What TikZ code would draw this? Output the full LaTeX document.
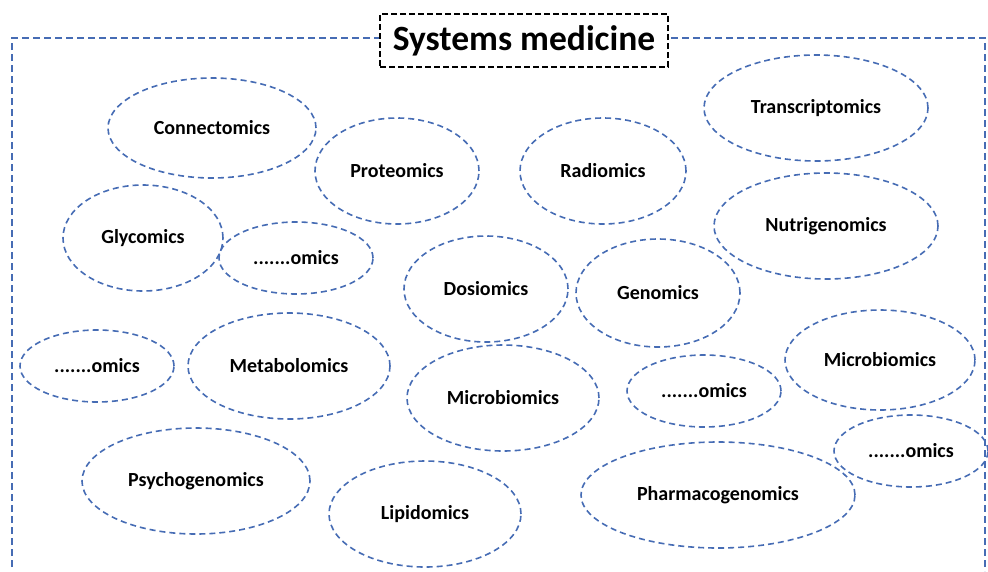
\documentclass[tikz,border=0pt]{standalone}
\usepackage{fontspec}
\setmainfont{Carlito}
\usetikzlibrary{shapes.geometric}
\definecolor{omicblue}{RGB}{70,108,180}

\begin{document}
\begin{tikzpicture}[x=1pt,y=-1pt,
  omic/.style={ellipse,draw=omicblue,dash pattern=on 6pt off 4pt,line width=1.6pt,inner sep=0pt,
    font=\bfseries\fontsize{20}{22}\selectfont},
  frameline/.style={draw=omicblue,dash pattern=on 7pt off 4pt,line width=1.4pt}]
  \useasboundingbox (0,0) rectangle (988,571);
  % frame
  \coordinate (fbl) at (12,567);
  \coordinate (ftl) at (12,38);
  \coordinate (ftr) at (985,38);
  \coordinate (fbr) at (985,571);
  \draw[frameline] (fbl) -- (ftl) -- (ftr) -- (fbr);
  \node[draw,dash pattern=on 6pt off 3pt,line width=1.3pt,fill=white,minimum width=288pt,minimum height=53pt,
    font=\bfseries\fontsize{35.5}{38}\selectfont] (title) at (524,40.5) {Systems medicine};
  % omics
  \node[omic,minimum width=208pt,minimum height=100pt] (connect) at (212,128) {Connectomics};
  \node[omic,minimum width=164pt,minimum height=106pt] (proteo) at (397,171) {Proteomics};
  \node[omic,minimum width=166pt,minimum height=106pt] (radio) at (603,171) {Radiomics};
  \node[omic,minimum width=224pt,minimum height=106pt] (transcr) at (816,108) {Transcriptomics};
  \node[omic,minimum width=160pt,minimum height=106pt] (glyco) at (143,238) {Glycomics};
  \node[omic,minimum width=154pt,minimum height=72pt] (omicsa) at (296,258) {.......omics};
  \node[omic,minimum width=164pt,minimum height=106pt] (dosio) at (486,289) {Dosiomics};
  \node[omic,minimum width=164pt,minimum height=108pt] (genom) at (658,293) {Genomics};
  \node[omic,minimum width=224pt,minimum height=106pt] (nutri) at (826,226) {Nutrigenomics};
  \node[omic,minimum width=154pt,minimum height=72pt] (omicsb) at (97,366) {.......omics};
  \node[omic,minimum width=202pt,minimum height=106pt] (metabo) at (289,366) {Metabolomics};
  \node[omic,minimum width=192pt,minimum height=106pt] (microa) at (503,398) {Microbiomics};
  \node[omic,minimum width=154pt,minimum height=72pt] (omicsc) at (704,391) {.......omics};
  \node[omic,minimum width=190pt,minimum height=100pt] (microb) at (880,360) {Microbiomics};
  \node[omic,minimum width=154pt,minimum height=72pt] (omicsd) at (911,451) {.......omics};
  \node[omic,minimum width=228pt,minimum height=106pt] (psycho) at (196,481) {Psychogenomics};
  \node[omic,minimum width=192pt,minimum height=106pt] (lipido) at (425,514) {Lipidomics};
  \node[omic,minimum width=274pt,minimum height=106pt] (pharma) at (718,495) {Pharmacogenomics};
\end{tikzpicture}
\end{document}
